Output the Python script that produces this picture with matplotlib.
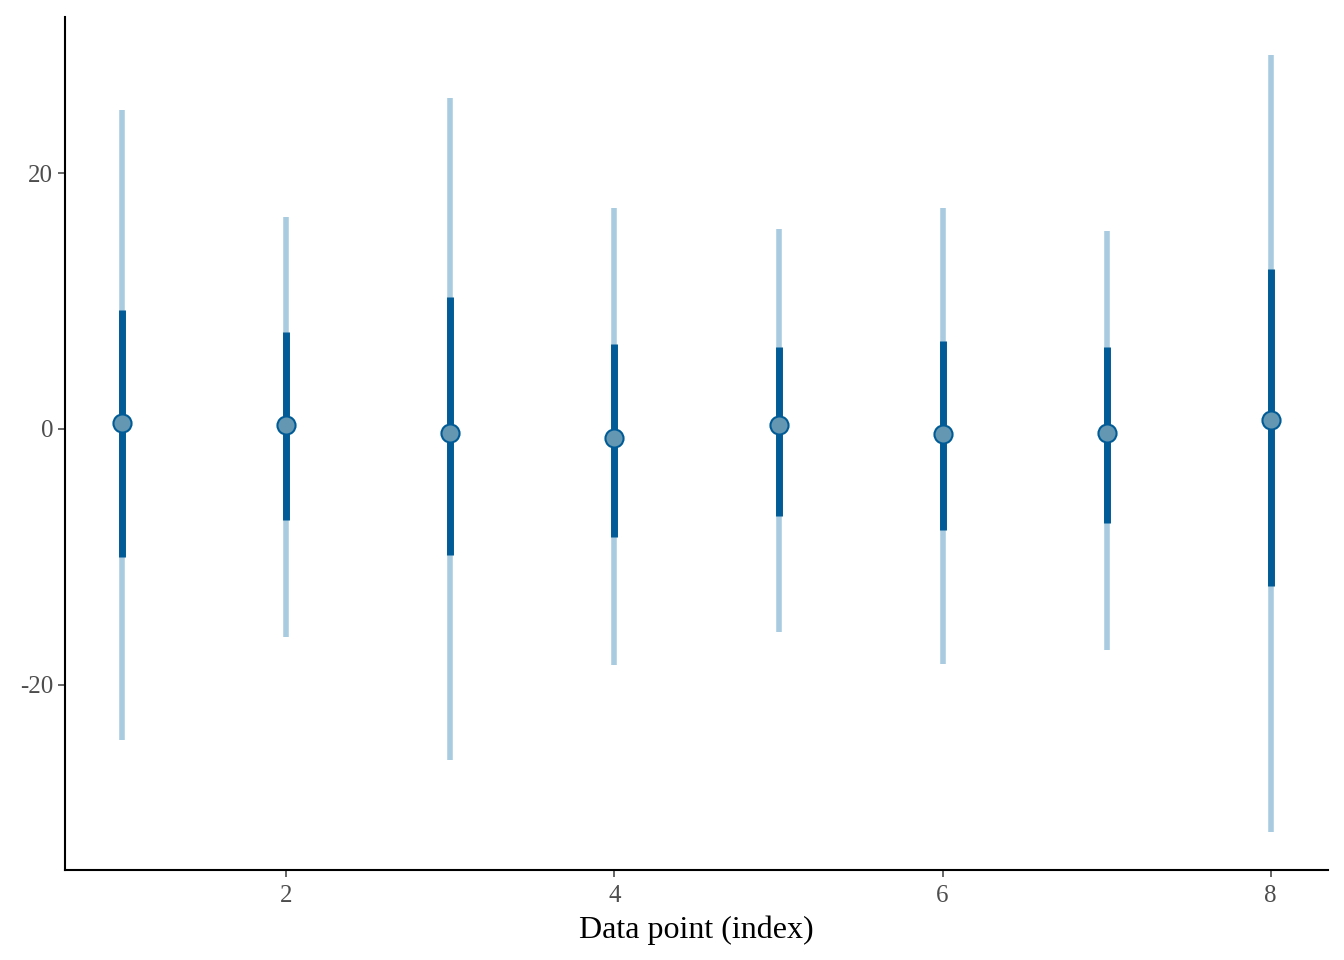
import matplotlib
matplotlib.use("Agg")
import matplotlib.pyplot as plt
import numpy as np

x = [1, 2, 3, 4, 5, 6, 7, 8]
center = [0.47, 0.31, -0.31, -0.7, 0.31, -0.4, -0.3, 0.7]
outer_lo = [-24.3, -16.3, -25.9, -18.5, -15.9, -18.4, -17.3, -31.5]
outer_hi = [24.9, 16.6, 25.9, 17.3, 15.6, 17.3, 15.5, 29.2]
inner_lo = [-10.0, -7.1, -9.9, -8.5, -6.8, -7.9, -7.4, -12.3]
inner_hi = [9.3, 7.6, 10.3, 6.6, 6.4, 6.9, 6.4, 12.5]
xticks = [2, 4, 6, 8]
yticks = [-20, 0, 20]

plt.rcParams['font.family'] = ['Liberation Serif', 'DejaVu Serif']

fig = plt.figure(figsize=(13.44, 9.6), dpi=100)
ax = fig.add_axes([65/1344, 1-870/960, (1328-65)/1344, (870-17)/960])

ax.vlines(x, outer_lo, outer_hi, color='#a8cbe0', linewidth=4.0, zorder=1)
ax.vlines(x, inner_lo, inner_hi, color='#005b96', linewidth=5.0, zorder=2)
ax.scatter(x, center, s=170, facecolor='#6497b1', edgecolor='#005b96', linewidth=1.5, zorder=3)

ax.set_xlim(0.65, 8.35)
ax.set_ylim(-34.5, 32.2)
ax.set_xticks(xticks)
ax.set_yticks(yticks)
ax.set_yticklabels([str(v) for v in yticks])
for s in ['top', 'right']:
    ax.spines[s].set_visible(False)
for s in ['left', 'bottom']:
    ax.spines[s].set_linewidth(1.5)
    ax.spines[s].set_color('black')
ax.tick_params(axis='both', colors='#4d4d4d', labelsize=18, length=5, width=1.2)
ax.tick_params(axis='x', pad=6)
ax.set_xlabel('Data point (index)', fontsize=23, color='black', labelpad=6)

fig.savefig('out.png', dpi=100)
